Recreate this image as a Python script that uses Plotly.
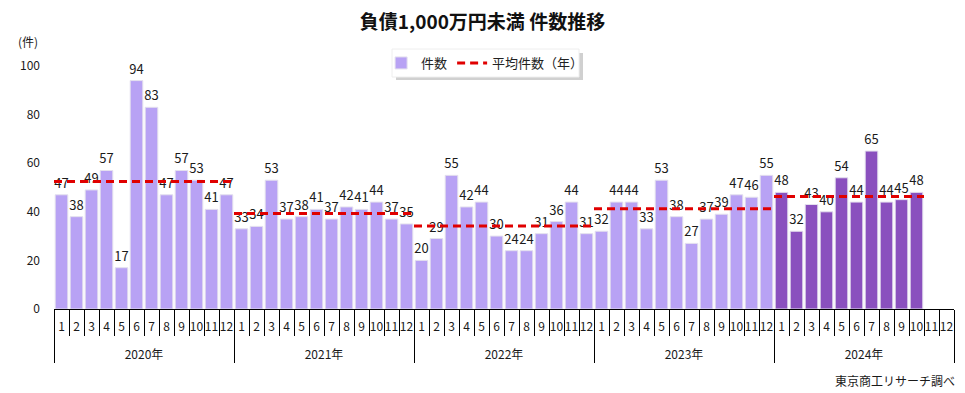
import plotly.graph_objects as go

years = ["2020年", "2021年", "2022年", "2023年", "2024年"]
months = [str(m) for m in range(1, 13)]
counts_2020 = [47, 38, 49, 57, 17, 94, 83, 47, 57, 53, 41, 47]
counts_2021 = [33, 34, 53, 37, 38, 41, 37, 42, 41, 44, 37, 35]
counts_2022 = [20, 29, 55, 42, 44, 30, 24, 24, 31, 36, 44, 31]
counts_2023 = [32, 44, 44, 33, 53, 38, 27, 37, 39, 47, 46, 55]
counts_2024 = [48, 32, 43, 40, 54, 44, 65, 44, 45, 48, None, None]
yearly_counts = [counts_2020, counts_2021, counts_2022, counts_2023, counts_2024]

LIGHT = "#B8A2F4"
DARK = "#8A50BE"
FONT = "DejaVu Sans, Noto Sans CJK JP"
JP = "Noto Sans CJK JP"

xs_year, xs_month, ys, colors, texts = [], [], [], [], []
for yi, (yr, vals) in enumerate(zip(years, yearly_counts)):
    for m, v in zip(months, vals):
        xs_year.append("<br>" + yr)
        xs_month.append(m)
        ys.append(v)
        colors.append(DARK if yi == len(years) - 1 else LIGHT)
        texts.append("" if v is None else str(v))

# yearly averages (only months with data)
avg_x, avg_y = [], []
offset = 0
for vals in yearly_counts:
    data = [v for v in vals if v is not None]
    avg = sum(data) / len(data)
    avg_x += [offset - 0.5, offset + len(data) - 0.5, None]
    avg_y += [avg, avg, None]
    offset += len(vals)

fig = go.Figure()
fig.add_trace(go.Bar(
    x=[xs_year, xs_month], y=ys, name="件数",
    marker=dict(color=colors, line=dict(color="#E4E0EE", width=1)),
    text=texts, textposition="outside", constraintext="none", cliponaxis=False,
    textfont=dict(family=JP, size=13, color="#1a1a1a"),
))
fig.add_trace(go.Scatter(
    x=avg_x, y=avg_y, name="平均件数（年）", mode="lines",
    line=dict(color="#E00000", width=3, dash="8px,5px"), xaxis="x2",
))

n = len(ys)
# legend frame with soft shadow (pixel positions converted to paper coords)
def px_x(p):
    return (p - 54) / 900

def px_y(p):
    return (309 - p) / 243

fig.update_layout(
    width=965, height=393,
    margin=dict(l=54, r=11, t=66, b=84, autoexpand=False),
    paper_bgcolor="white", plot_bgcolor="white",
    font=dict(family=FONT, size=12, color="#1a1a1a"),
    title=dict(text="<b>負債1,000万円未満 件数推移</b>", x=0.5, xanchor="center",
               y=1 - 22 / 393, yanchor="middle",
               font=dict(family=JP, size=19, color="#111")),
    bargap=0.16,
    showlegend=True,
    legend=dict(orientation="h", x=0.479, xanchor="center", y=px_y(48), yanchor="top",
                bgcolor="rgba(0,0,0,0)", borderwidth=0, itemwidth=30,
                font=dict(family=JP, size=13, color="#222")),
    xaxis=dict(type="multicategory", showline=True, linecolor="#000", linewidth=1,
               ticks="outside", tickson="boundaries", ticklen=26, tickcolor="#000",
               showdividers=True, dividercolor="#000", dividerwidth=1,
               showgrid=False, tickangle=0, automargin=False, ticklabelstandoff=7,
               tickfont=dict(family=JP, size=12)),
    xaxis2=dict(overlaying="x", range=[-0.5, n - 0.5], visible=False),
    yaxis=dict(range=[0, 100], tickvals=[0, 20, 40, 60, 80, 100], showgrid=False,
               zeroline=False, showline=False, ticks="", ticklabelstandoff=13,
               automargin=False, tickfont=dict(family=JP, size=12)),
    shapes=[
        dict(type="rect", xref="paper", yref="paper",
             x0=px_x(396), x1=px_x(583), y0=px_y(80), y1=px_y(53),
             fillcolor="rgba(120,120,120,0.35)", line=dict(width=0), layer="below"),
        dict(type="rect", xref="paper", yref="paper",
             x0=px_x(392), x1=px_x(579), y0=px_y(77), y1=px_y(49),
             fillcolor="white", line=dict(width=1, color="#EEEEEE"), layer="below"),
    ],
    annotations=[
        dict(text="(件)", xref="paper", yref="paper", x=-0.029, y=1.099,
             xanchor="center", yanchor="middle", showarrow=False,
             font=dict(family=JP, size=12)),
        dict(text="東京商工リサーチ調べ", xref="paper", yref="paper", x=1.003, y=-0.296,
             xanchor="right", yanchor="middle", showarrow=False,
             font=dict(family=JP, size=12)),
    ],
)
fig.write_html("out.html", config={"displayModeBar": False},
               post_script="document.body.style.margin='0';")
